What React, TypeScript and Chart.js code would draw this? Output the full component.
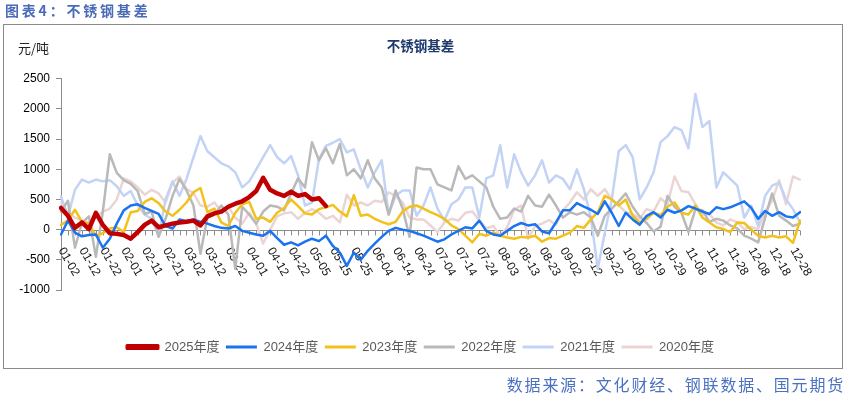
import React, { useEffect, useRef } from "react";
import { Chart, registerables } from "chart.js";

Chart.register(...registerables);

// ---- tick labels on the category axis (every third category) ----
const tickLabels: string[] = [
  "01-02", "01-12", "01-22", "02-01", "02-11", "02-21", "03-02", "03-12", "03-22",
  "04-01", "04-12", "04-22", "05-05", "05-15", "05-25", "06-04", "06-14", "06-24",
  "07-04", "07-14", "07-24", "08-03", "08-13", "08-23", "09-02", "09-12", "09-22",
  "10-09", "10-19", "10-29", "11-08", "11-18", "11-28", "12-08", "12-18", "12-28",
];
const lastCategory = "12-31";

function toDate(mmdd: string) {
  const [m, d] = mmdd.split("-").map(Number);
  return Date.UTC(2024, m - 1, d);
}
function addDays(mmdd: string, n: number) {
  const dt = new Date(toDate(mmdd) + n * 86400000);
  return String(dt.getUTCMonth() + 1).padStart(2, "0") + "-" + String(dt.getUTCDate()).padStart(2, "0");
}

// categories: each labelled date plus two intermediate dates
const categories: string[] = [];
tickLabels.forEach((lab, i) => {
  categories.push(lab);
  if (i < tickLabels.length - 1) {
    const span = Math.round((toDate(tickLabels[i + 1]) - toDate(lab)) / 86400000);
    categories.push(addDays(lab, Math.round(span / 3)));
    categories.push(addDays(lab, Math.round((2 * span) / 3)));
  }
});
categories.push(lastCategory);

// ---- series (元/吨) ----
const s2025: number[] = [
  360, 230, 30, 120, 10, 280, 80, -60, -70, -90,
  -150, -40, 80, 150, 40, 70, 100, 120, 130, 150,
  70, 220, 270, 300, 380, 430, 470, 540, 640, 860,
  660, 600, 560, 630, 560, 590, 500, 520, 390,
];
const s2024: number[] = [
  -80, 150, -50, -110, -90, -80, -300, -150, 100, 320,
  400, 420, 360, 310, 260, 60, 20, 170, 140, 170,
  130, 100, 60, 30, 20, 60, -20, -50, -80, -100,
  -20, -140, -250, -210, -260, -200, -150, -190, -100, -270,
  -380, -600, -380, -500, -350, -230, -120, -20, 30, 0,
  -20, -60, -100, -150, -200, -160, -80, -20, 40, 20,
  150, -20, -80, -100, -20, 60, 110, 70, 90, -30,
  -60, 120, 320, 320, 440, 380, 330, 260, 470, 280,
  60, 280, 170, 80, 230, 290, 200, 330, 280, 320,
  390, 350, 300, 260, 370, 340, 370, 420, 470, 360,
  180, 310, 230, 290, 220, 200, 290,
];
const s2023: number[] = [
  80, 150, 330, 130, 100, -100, -60, 20, 40, -40,
  290, 310, 460, 520, 440, 300, 230, 330, 450, 620,
  690, 290, 350, 120, 60, 280, 420, 460, 180, 200,
  130, 280, 360, 500, 390, 270, 250, 340, 370, 410,
  300, 220, 570, 230, 250, 180, 130, 90, 130, 300,
  380, 400, 350, 290, 240, 180, 70, 10, -100, -210,
  -70, -100, -50, -100, -130, -150, -120, -130, -100, -200,
  -140, -150, -100, -50, 60, 30, 170, 290, 560, 500,
  400, 500, 230, 120, 180, 280, 240, 380, 450, 280,
  250, 400, 200, 120, 40, 10, -40, 120, 110, 0,
  -100, -130, -100, -130, -110, -220, 150,
];
const s2022: number[] = [
  300, 480, -300, 110, 220, -450, 300, 1250, 940, 820,
  760, 640, 260, 300, -120, 180, 560, 840, 650, 400,
  -400, 200, 250, 400, 250, -650, 380, 250, 100, 300,
  400, 380, 320, 600, 850, 700, 1450, 1150, 1350, 1100,
  1420, 900, 1000, 850, 1150, 850, 700, 250, 650, 350,
  -120, 1030, 1000, 1000, 750, 700, 650, 1050, 840, 900,
  800, 700, 380, 180, 200, 350, 300, 560, 400, 380,
  580, 400, 200, 290, 250, 290, 200, -100, 230, 350,
  470, 600, 380, 220, 110, -30, 50, 560, 380, 280,
  -40, 340, 320, 130, 180, 150, 70, 20, -100, -150,
  -210, 200, 600, 230, 150, 60, 100,
];
const s2021: number[] = [
  550, 220, 660, 830, 780, 830, 800, 820, 720, 560,
  640, 400, 250, 180, -100, 500, 800, 560, 840, 1200,
  1550, 1300, 1200, 1100, 1050, 950, 700, 800, 1000, 1200,
  1400, 1200, 1100, 1220, 900, 400, 450, 1170, 1390, 1440,
  1500, 1280, 1330, 1000, 700, 950, 1150, 250, 560, 650,
  650, 230, 400, 700, 350, 150, 420, 500, 700, 700,
  200, 850, 900, 1400, 700, 1250, 950, 730, 900, 1150,
  780, 900, 840, 670, 1000, 670, 200, -650, -50, 500,
  1300, 1400, 1200, 500, 700, 950, 1450, 1550, 1700, 1650,
  1350, 2250, 1700, 1800, 700, 950, 840, 730, 200, 400,
  60, 560, 730, 780, 500, 340, 120,
];
const s2020: number[] = [
  450, 280, 200, 150, 120, 200, 300, 350, 500, 850,
  800, 700, 580, 660, 600, 450, 780, 880, 670, 610,
  400, 380, 450, 300, 380, 200, 100, 280, 100, -230,
  0, 220, 270, 290, 180, 280, 340, 280, 180, 230,
  120, 580, 400, 450, 400, 480, 460, 620, 560, 450,
  200, 170, 170, 70, -40, 120, 180, 150, 280, 300,
  150, 20, 60, -100, 40, 330, 400, -150, 60, 100,
  160, 80, 320, 450, 620, 500, 670, 560, 670, 500,
  400, 290, 260, 180, 340, 300, 520, 420, 880, 640,
  620, 420, 250, 260, 120, 70, 170, 120, 10, 40,
  10, 300, 480, 820, 420, 880, 830,
];

const seriesNames = ["2025年度", "2024年度", "2023年度", "2022年度", "2021年度", "2020年度"];
const seriesColors = ["#C00000", "#1A73F0", "#F2C11B", "#B9B9B9", "#C3D3F5", "#EBD4D4"];
const seriesWidths = [4.5, 2.5, 2.5, 2.5, 2.5, 2.5];
const seriesData = [s2025, s2024, s2023, s2022, s2021, s2020];

const yTicksMin = -1000;
const yTicksMax = 2500;
const yStep = 500;

const labelSet = new Set(tickLabels);

const zeroAxisPlugin = {
  id: "zeroAxis",
  beforeDatasetsDraw(chart: any) {
    const { ctx, chartArea, scales } = chart;
    const xs = scales.x;
    const ys = scales.y;
    const y0 = Math.round(ys.getPixelForValue(0)) + 0.5;
    ctx.save();
    ctx.strokeStyle = "#8c8c8c";
    ctx.lineWidth = 1;
    ctx.beginPath();
    ctx.moveTo(chartArea.left, y0);
    ctx.lineTo(chartArea.right, y0);
    for (let i = 0; i < categories.length; i++) {
      const x = Math.round(xs.getPixelForValue(i)) + 0.5;
      ctx.moveTo(x, y0);
      ctx.lineTo(x, y0 + 5);
    }
    ctx.stroke();
    ctx.fillStyle = "#111";
    ctx.font = "12px 'Liberation Sans', Arial, sans-serif";
    ctx.textAlign = "left";
    ctx.textBaseline = "middle";
    categories.forEach((c, i) => {
      if (!labelSet.has(c)) return;
      const x = xs.getPixelForValue(i);
      ctx.save();
      ctx.translate(x, y0 + 18);
      ctx.rotate(Math.PI / 3);
      ctx.fillText(c, 0, 0);
      ctx.restore();
    });
    ctx.restore();
  },
};

export default function App() {
  const ref = useRef<HTMLCanvasElement>(null);

  useEffect(() => {
    if (!ref.current) return;
    Chart.defaults.font.family = "'Liberation Sans', 'Noto Sans CJK SC', Arial, sans-serif";
    const chart = new Chart(ref.current, {
      type: "line",
      data: {
        labels: categories,
        datasets: seriesData.map((d, i) => ({
          label: seriesNames[i],
          data: d,
          borderColor: seriesColors[i],
          backgroundColor: seriesColors[i],
          borderWidth: seriesWidths[i],
          pointRadius: 0,
          pointHoverRadius: 0,
          tension: 0,
          fill: false,
          borderJoinStyle: "round" as const,
          borderCapStyle: "round" as const,
        })),
      },
      options: {
        responsive: false,
        animation: false,
        devicePixelRatio: 1,
        layout: { padding: { left: 0, right: 14, top: 30, bottom: 31.5 } },
        plugins: {
          tooltip: { enabled: false },
          title: {
            display: true,
            text: "不锈钢基差",
            color: "#1F3A6E",
            font: { size: 13.5, weight: "bold", family: "'Noto Sans CJK SC', sans-serif" },
            padding: { top: 7.6, bottom: 25 },
          },
          legend: {
            display: true,
            position: "bottom",
            labels: {
              boxWidth: 31,
              boxHeight: 3,
              padding: 6.5,
              color: "#595959",
              font: { size: 13 },
              generateLabels: (ch: any) =>
                ch.data.datasets.map((ds: any, i: number) => ({
                  text: ds.label,
                  fillStyle: ds.borderColor,
                  strokeStyle: ds.borderColor,
                  lineWidth: i === 0 ? 3 : 0,
                  lineCap: "round",
                  lineJoin: "round",
                  hidden: false,
                  datasetIndex: i,
                  fontColor: "#595959",
                })),
            },
          },
        },
        scales: {
          x: {
            type: "category",
            offset: false,
            grid: { display: false },
            border: { display: false },
            ticks: { display: false },
            afterFit: (s: any) => {
              s.height = 44;
            },
          },
          y: {
            position: "left",
            min: yTicksMin,
            max: yTicksMax,
            ticks: {
              stepSize: yStep,
              padding: 6,
              color: "#000",
              font: { size: 12 },
              callback: (v: any) => String(v),
            },
            grid: { drawOnChartArea: false, drawTicks: true, tickLength: 5, color: "#8c8c8c" },
            border: { display: true, color: "#8c8c8c" },
            afterFit: (s: any) => {
              s.width = 61;
            },
          },
          yRightSpace: {
            axis: "y",
            position: "right",
            grid: { display: false },
            border: { display: false },
            ticks: { display: false },
            afterFit: (s: any) => {
              s.width = 41;
            },
          },
        },
      },
      plugins: [zeroAxisPlugin],
    } as any);
    return () => chart.destroy();
  }, []);

  return (
    <div
      style={{
        position: "fixed",
        left: 0,
        top: 0,
        width: 855,
        height: 395,
        background: "#fff",
        overflow: "hidden",
      }}
    >
      <canvas
        ref={ref}
        width={855}
        height={395}
        style={{ position: "absolute", left: 0, top: 0, width: 855, height: 395 }}
      />
      <div
        style={{
          position: "absolute",
          left: 3,
          top: 24,
          width: 840,
          height: 345,
          border: "1px solid #8a8a8a",
          boxSizing: "border-box",
          pointerEvents: "none",
        }}
      />
      <div
        style={{
          position: "absolute",
          left: 5,
          top: 1,
          fontFamily: "'Noto Sans CJK SC', sans-serif",
          fontWeight: "bold",
          fontSize: 14,
          lineHeight: "18px",
          letterSpacing: "2.8px",
          color: "#4A6CB8",
          whiteSpace: "nowrap",
        }}
      >
        图表4：不锈钢基差
      </div>
      <div
        style={{
          position: "absolute",
          left: 18,
          top: 39,
          fontFamily: "'Noto Sans CJK SC', sans-serif",
          fontSize: 13,
          lineHeight: "18px",
          color: "#222",
          whiteSpace: "nowrap",
        }}
      >
        元/吨
      </div>
      <div
        style={{
          position: "absolute",
          right: 10,
          top: 375,
          fontFamily: "'Noto Sans CJK SC', sans-serif",
          fontSize: 16,
          lineHeight: "18px",
          letterSpacing: "1.8px",
          color: "#4A72C0",
          whiteSpace: "nowrap",
        }}
      >
        数据来源：文化财经、钢联数据、国元期货
      </div>
    </div>
  );
}
